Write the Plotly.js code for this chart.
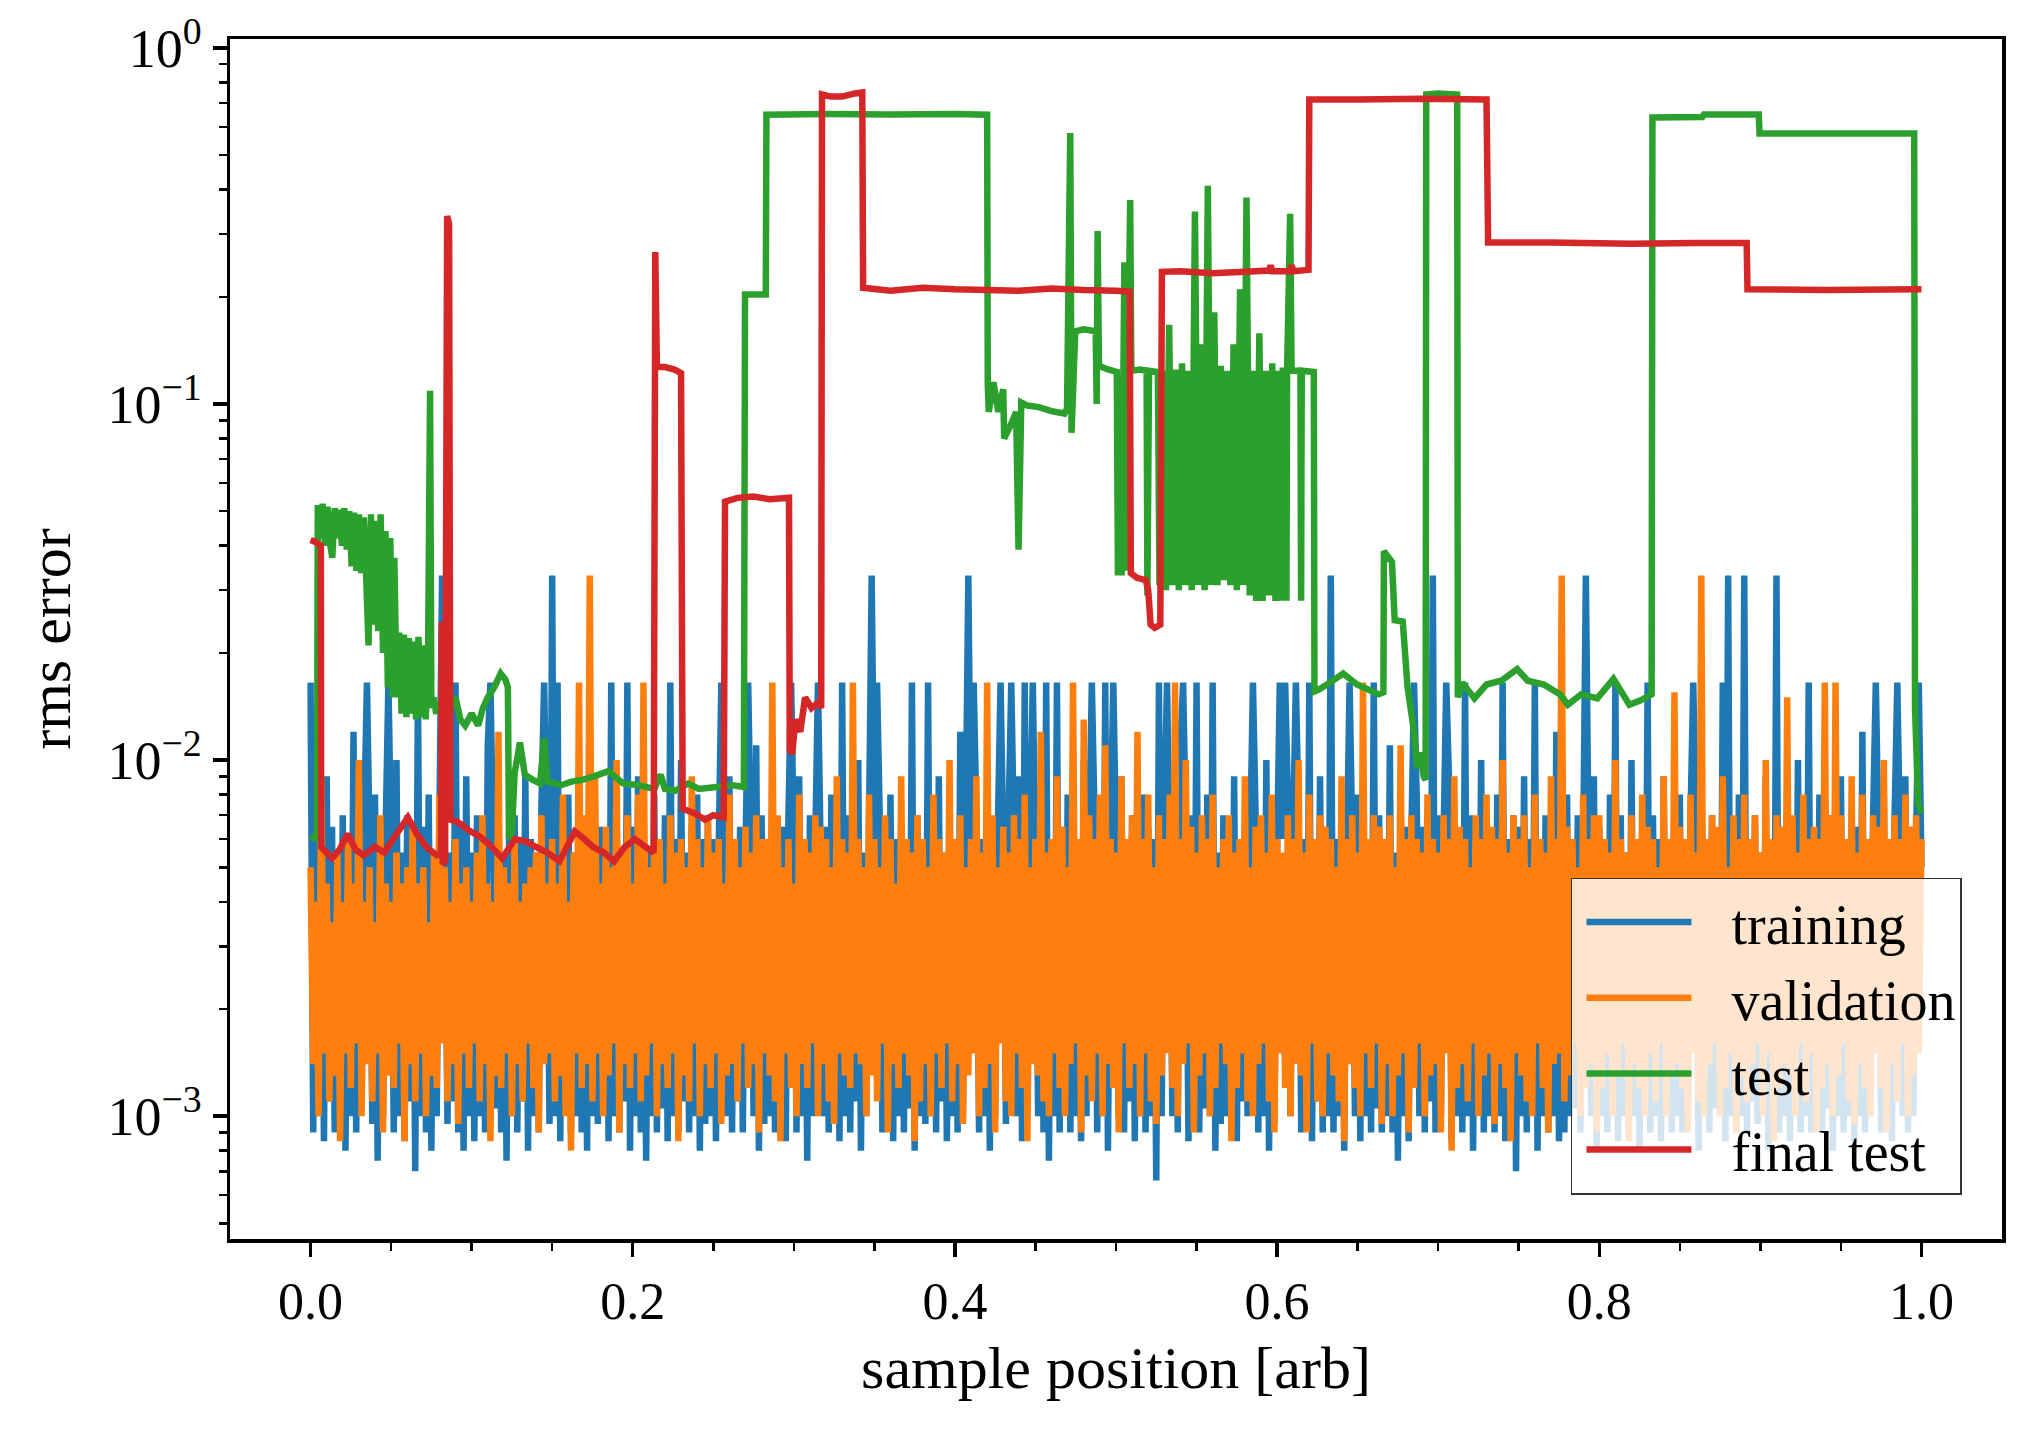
<!DOCTYPE html>
<html>
<head>
<meta charset="utf-8">
<script src="https://cdn.plot.ly/plotly-3.0.1.min.js"></script>
<style>html,body{margin:0;padding:0;background:#fff;}</style>
</head>
<body>
<div id="chart" style="width:2031px;height:1431px;"></div>
<script>
// ---------------- data ----------------
const seriesNames = ['training', 'validation', 'test', 'final test'];
const seriesColors = ['#1f77b4', '#ff7f0e', '#2ca02c', '#d62728'];

const xTickVals = [0, 0.2, 0.4, 0.6, 0.8, 1.0];
const xTickText = ['0.0', '0.2', '0.4', '0.6', '0.8', '1.0'];
const xMinorVals = [0.05,0.1,0.15,0.25,0.3,0.35,0.45,0.5,0.55,0.65,0.7,0.75,0.85,0.9,0.95];
const yTickVals = [0.001, 0.01, 0.1, 1];
const yTickText = ['10<sup>\u22123</sup>', '10<sup>\u22122</sup>', '10<sup>\u22121</sup>', '10<sup>0</sup>'];
const yMinorVals = [5e-4,6e-4,7e-4,8e-4,9e-4,2e-3,3e-3,4e-3,5e-3,6e-3,7e-3,8e-3,9e-3,
                    2e-2,3e-2,4e-2,5e-2,6e-2,7e-2,8e-2,9e-2,0.2,0.3,0.4,0.5,0.6,0.7,0.8,0.9];

// training rms error in units of 1e-3, samples evenly spread over [0, 1]
const trainingMilli = [
 16.5,0.9,6,1.0,5.5,0.85,9,1.1,6.5,0.9,
 5.5,1.0,7,0.8,6,1.0,12,0.9,5.5,1.05,
 7,16.5,6,0.95,8,0.75,5.5,1.0,6.5,16.5,
 6,0.9,10,1.0,5.5,0.85,7,1.1,6,0.7,
 16.5,1.0,6.5,0.9,8,0.8,5.5,1.0,7,33,
 6,0.95,5.5,1.1,16.5,0.9,6.5,0.8,9,1.0,
 5.5,0.85,7,1.0,6,0.9,11,16.5,6,1.05,
 8,0.9,5.5,0.75,6.5,1.0,7,0.9,6,1.1,
 9,0.8,6,1.0,5.5,0.9,7.5,16.5,6,0.95,
 33,1.0,16.5,0.85,6,1.1,8,0.9,5.5,1.0,
 7,0.9,6,0.8,12,1.0,5.5,0.95,6.5,1.05,
 6,0.85,16.5,1.0,7,0.9,5.5,1.1,16.5,0.8,
 6.5,1.0,9,0.9,6,0.75,5.5,1.0,8,0.9,
 6,1.05,7,0.85,16.5,1.0,6,0.9,10,1.1,
 5.5,0.9,6.5,1.0,8,0.8,6,0.95,7,1.0,
 6,0.85,5.5,16.5,7,1.0,9,0.9,6,1.1,
 6.5,0.9,5.5,16.5,6,1.0,11,0.8,7,0.95,
 6,1.0,8,0.9,5.5,1.1,6.5,0.85,7,16.5,
 6,0.9,9,1.0,5.5,0.75,7,1.0,6,16.5,
 5.5,1.0,6.5,0.9,8,1.05,6,0.85,16.5,1.0,
 7,0.9,6,1.1,10,0.8,5.5,1.0,6.5,33,
 6,16.5,7,0.9,5.5,1.0,8,0.85,6,1.0,
 6.5,0.9,5.5,1.05,16.5,0.8,7,1.0,6,0.95,
 16.5,1.0,6,0.9,9,1.1,5.5,0.85,7,1.0,
 6,0.9,12,1.0,6.5,33,5.5,16.5,7,0.9,
 6,1.0,8,0.8,5.5,1.0,6.5,16.5,6,0.95,
 7,16.5,6,1.0,9,0.85,16.5,1.1,6,16.5,
 5.5,1.0,7,0.9,16.5,0.75,6,1.0,16.5,0.9,
 6.5,1.05,8,0.9,6,1.0,5.5,0.85,10,1.0,
 6,16.5,7,0.9,5.5,1.0,16.5,0.8,6.5,16.5,
 6,1.0,9,0.9,5.5,1.1,7,0.85,6,1.0,
 8,0.9,6.5,1.0,6,0.66,16.5,1.0,7,16.5,
 5.5,1.0,6,0.9,11,16.5,6.5,0.85,7,1.0,
 16.5,0.9,6,1.05,8,1.0,16.5,0.8,5.5,0.95,
 7,1.0,6.5,0.9,9,0.85,6,1.1,5.5,1.0,
 6,16.5,7,0.9,6.5,1.0,10,0.8,6,0.95,
 5.5,16.5,6,16.5,8,1.0,6.5,16.5,7,0.9,
 6,1.0,16.5,0.85,5.5,1.1,9,0.9,6.5,1.0,
 33,0.9,6,1.0,7,0.8,5.5,16.5,6,1.0,
 8,0.85,6.5,1.0,6,0.9,16.5,1.05,7,0.9,
 6,1.0,11,0.9,5.5,0.75,7,1.0,6.5,0.85,
 6,16.5,8,1.0,6.5,0.9,5.5,1.1,33,0.9,
 7,1.0,6,16.5,9,0.85,6.5,1.0,5.5,0.9,
 16.5,1.0,7,0.8,6,1.05,10,0.9,6.5,1.0,
 5.5,0.9,8,1.0,16.5,0.85,6,1.0,7,0.7,
 6.5,1.0,9,0.9,6,1.1,16.5,0.8,5.5,1.0,
 7,0.9,6,1.0,12,0.85,6.5,0.9,8,1.0,
 6,1.05,7,0.9,5.5,33,6,1.0,9,0.8,
 6.5,1.0,6,0.9,8,1.0,16.5,0.85,7,1.0,
 5.5,0.9,10,1.0,6,0.8,6.5,1.1,16.5,0.9,
 7,1.0,6,0.85,9,1.0,5.5,0.9,6.5,1.0,
 8,0.9,6,1.0,7,16.5,6.5,0.8,11,1.0,
 6,0.9,7,1.05,5.5,1.0,16.5,0.85,33,1.0,
 6.5,0.9,8,1.0,33,0.9,6,1.1,7,0.95,
 5.5,1.0,9,0.8,6,1.0,33,0.9,6.5,1.0,
 7,0.85,6,1.0,10,0.9,5.5,1.0,16.5,0.9,
 6,1.0,8,0.9,6.5,1.05,7,0.8,6,1.0,
 9,0.9,5.5,1.0,7,0.85,6.5,1.0,12,0.9,
 6,1.0,7,16.5,6,0.9,8,1.0,5.5,0.85,
 7,16.5,6,1.0,9,0.9,6.5,1.0,6,16.5,
 5
];

// validation rms error in units of 1e-3, same sample grid
const validationMilli = [
 5,1.4,4,1.0,9,1.5,4.5,1.1,3.5,1.3,
 5.5,0.85,4,1.5,6,1.2,4.5,1.6,10,1.0,
 4,1.4,5,1.1,3.5,1.5,7,0.9,4.5,1.3,
 4,1.2,5.5,1.6,4.5,0.85,5,1.4,6.5,1.1,
 4.5,1.5,5,1.0,3.5,1.3,5.5,1.2,8,1.6,
 5,1.1,4,1.4,6,0.95,4.5,1.5,5,1.2,
 4,1.6,5.5,1.1,7,1.4,4.5,0.85,4,1.3,
 12,1.2,5,1.5,4.5,1.0,6,1.4,4,1.1,
 4.5,1.6,5,1.2,5.5,0.9,7,1.4,4.5,1.5,
 6,1.1,4.5,1.3,8,1.0,4,0.8,5.5,1.5,
 16.5,1.2,7,1.4,33,1.1,9,1.5,4.5,1.0,
 6.5,1.3,5,1.6,10,0.9,5.5,1.4,7,1.2,
 4.5,1.5,8,1.1,16.5,1.3,5,1.6,6,1.0,
 6,1.4,4.5,1.2,7,1.5,5.5,0.85,6,1.3,
 5,1.1,9,1.6,6,1.0,5,1.4,7,1.2,
 5.5,1.5,6,0.95,4.5,1.3,8,1.4,6,1.1,
 5,1.6,6.5,1.2,5.5,1.4,7,0.9,6,1.5,
 6,1.3,16.5,1.1,7,0.85,5,1.5,6,1.2,
 4.5,1.0,8,1.4,6,1.2,5.5,1.6,7,1.0,
 6.5,1.4,6,1.1,5,0.95,9,1.5,6,1.3,
 5.5,1.2,16.5,1.5,6,1.4,5,1.0,8,1.3,
 6,1.1,5,1.6,7,0.9,6,1.4,4.5,1.2,
 9,1.5,6,1.3,5.5,0.85,7,1.1,6,1.4,
 5,1.0,8,1.5,6,1.2,5.5,1.6,10,1.1,
 6,1.4,7,0.95,5,1.3,6,1.5,9,1.0,
 5.5,1.2,16.5,1.4,7,0.9,5,1.6,6.5,1.1,
 5.5,1.0,7,1.5,6,1.2,8,0.85,5,1.4,
 6,1.3,12,1.1,5.5,1.0,6,1.5,9,1.2,
 6.5,1.0,5,1.4,16.5,1.6,6,0.9,13,1.3,
 7,1.1,6,1.5,8,1.0,11,1.4,6,1.2,
 5.5,0.9,9,1.6,6,1.2,7,1.4,12,1.0,
 6,1.5,8,1.1,5,0.95,7,1.3,6,1.5,
 8,1.2,16.5,1.0,6,1.4,10,1.6,6.5,0.9,
 5.5,1.3,7,1.5,6,1.0,8,1.2,5,1.6,
 6,1.4,7,0.85,5.5,1.2,6,1.5,9,1.1,
 5,1.0,6.5,1.4,7,1.6,5.5,1.1,8,0.9,
 6,1.5,5.5,1.2,7,1.0,6,1.4,10,1.3,
 5.5,0.9,8,1.6,6,1.1,7,1.0,6.5,1.5,
 6,1.3,5,1.1,9,0.85,6,1.4,7,1.2,
 5.5,1.0,16.5,1.5,6,1.2,7,1.6,6.5,0.95,
 6,1.4,7,1.0,5,1.3,11,1.5,6,0.9,
 7,1.2,6,1.6,5.5,1.0,8,1.3,6,1.4,
 5.5,0.9,7,1.5,6,0.8,9,1.2,6.5,1.4,
 6,1.1,5,1.6,7,1.0,6,1.3,8,1.5,
 6.5,0.95,6,1.4,10,1.2,5.5,0.85,7,1.5,
 6,1.3,7,1.1,5,1.0,8,1.6,6,1.2,
 5.5,0.9,9,1.4,6,1.5,33,1.1,6.5,1.3,
 6,1.6,5,1.0,8,1.2,6,1.4,7,0.9,
 7,1.2,6,1.5,5.5,1.0,10,1.3,6,1.6,
 5.5,0.85,7,1.4,6,1.2,8,1.0,6.5,1.5,
 6,1.1,5,1.6,9,1.0,6,1.3,15.5,1.4,
 6.5,1.2,6,0.9,8,1.5,5.5,1.1,33,1.0,
 6,1.4,7,1.6,6.5,1.0,9,1.2,5,1.5,
 7,0.9,6,1.3,8,1.1,6,1.4,7,1.6,
 5.5,1.0,10,1.5,6,0.85,7,1.2,6.5,1.4,
 15,1.3,7,1.0,5.5,1.6,8,1.1,6,1.5,
 6.5,0.9,6,1.2,16.5,1.4,7,1.0,16.5,1.3,
 7,1.6,6,1.1,9,0.95,5.5,1.4,8,1.2,
 6,1.0,7,1.5,6.5,1.2,10,0.9,6,1.4,
 7,1.1,6,1.6,8,1.0,6.5,1.3,7,1.5,
 6
];

// test rms error (sample position, value)
const testX = [
 0.000,0.0040,0.0045,0.0060,0.0075,0.0090,0.0105,0.0120,0.0135,0.0150,
 0.0165,0.0180,0.0195,0.0210,0.0225,0.0240,0.0255,0.0270,0.0285,0.0300,
 0.0315,0.0330,0.0345,0.0360,0.0375,0.0390,0.0405,0.0420,0.0435,0.0450,
 0.0465,0.0480,0.0495,0.0510,0.0520,0.0535,0.0550,0.0565,0.0580,0.0595,
 0.0610,0.0625,0.0640,0.0655,0.0670,0.0685,0.0700,0.0715,0.0730,0.0742,
 0.0750,0.0765,0.0780,0.0800,0.0830,0.0860,0.0900,0.0930,0.0960,0.1000,
 0.1040,0.1070,0.1100,0.1140,0.1180,0.1210,0.1225,0.1232,0.1250,0.1267,
 0.1300,0.1330,0.1380,0.1425,0.1450,0.1470,0.1555,0.1620,0.1686,0.1760,
 0.1848,0.1900,0.1940,0.2036,0.2134,0.2173,0.2200,0.2263,0.2344,0.2410,
 0.2521,0.2620,0.2690,0.2697,0.2826,0.2830,0.3200,0.3600,0.4000,0.4200,
 0.4204,0.4210,0.4239,0.4270,0.4300,0.4306,0.4350,0.4380,0.4395,0.4412,
 0.4450,0.4520,0.4600,0.4680,0.4696,0.4716,0.4724,0.4747,0.4800,0.4874,
 0.4880,0.4886,0.4894,0.4950,0.5005,0.5012,0.5025,0.5035,0.5052,0.5060,
 0.5075,0.5088,0.5095,0.5150,0.5190,0.5195,0.5205,0.5260,
 0.527,0.529,0.531,0.533,0.535,0.537,0.539,0.541,0.543,0.545,
 0.547,0.549,0.551,0.553,0.555,0.557,0.559,0.561,0.563,0.565,
 0.567,0.569,0.571,0.573,0.575,0.577,0.579,0.581,0.583,0.585,
 0.587,0.589,0.591,0.593,0.595,0.597,0.599,0.601,0.603,0.6035,
 0.6055,0.6058,0.6062,0.6081,0.6090,0.6145,0.6149,0.6153,0.6228,0.6232,
 0.6262,0.6328,0.6410,0.6496,0.6630,0.6660,0.6663,0.6713,0.6730,0.6780,
 0.6810,0.6847,0.6870,0.6890,0.6910,0.6922,0.6926,0.7000,0.7118,0.7122,
 0.7150,0.7225,0.7300,0.7391,0.7490,0.7556,0.7656,0.7755,0.7805,0.7888,
 0.7988,0.8088,0.8187,0.8254,0.8325,0.8330,0.8640,0.8650,0.8990,0.8995,
 0.9500,0.9955,0.9960,0.9980,1.0000
];
const testY = [
 0.0061,0.0060,0.0520,0.0420,0.0525,0.0400,0.0515,0.0410,0.0370,0.0510,
 0.0420,0.0505,0.0400,0.0510,0.0390,0.0500,0.0350,0.0495,0.0340,0.0490,
 0.0335,0.0480,0.0330,0.0210,0.0490,0.0240,0.0470,0.0230,0.0490,0.0200,
 0.0440,0.0160,0.0420,0.0150,0.0370,0.0150,0.0228,0.0135,0.0225,0.0132,
 0.0220,0.0135,0.0215,0.0130,0.0222,0.0132,0.0210,0.0130,0.0205,0.1090,
 0.0140,0.0150,0.0135,0.0145,0.0125,0.0140,0.0150,0.0130,0.0125,0.0135,
 0.0125,0.0140,0.0150,0.0160,0.0175,0.0168,0.0160,0.0060,0.0063,0.0092,
 0.0112,0.0091,0.0088,0.0086,0.0115,0.0087,0.0085,0.0087,0.0088,0.0090,
 0.0093,0.0089,0.0086,0.0085,0.0083,0.0091,0.0083,0.0082,0.0086,0.0083,
 0.0084,0.0085,0.0084,0.203,0.203,0.649,0.652,0.650,0.652,0.649,
 0.114,0.095,0.115,0.095,0.110,0.080,0.088,0.095,0.039,0.101,
 0.099,0.098,0.0955,0.094,0.097,0.577,0.083,0.160,0.162,0.160,
 0.100,0.306,0.128,0.125,0.123,0.033,0.120,0.033,0.250,0.034,
 0.124,0.374,0.124,0.125,0.124,0.029,0.124,0.123,
 0.031,0.124,0.030,0.167,0.031,0.125,0.030,0.130,0.031,0.124,
 0.030,0.347,0.031,0.147,0.030,0.410,0.031,0.181,0.031,0.128,
 0.032,0.124,0.031,0.147,0.030,0.210,0.031,0.380,0.029,0.124,
 0.028,0.158,0.028,0.124,0.029,0.130,0.028,0.124,0.028,0.124,
 0.124,0.028,0.124,0.342,0.124,0.124,0.028,0.124,0.123,0.0156,
 0.0158,0.0165,0.0175,0.0163,0.0153,0.0155,0.0386,0.0360,0.0247,0.0245,
 0.0160,0.0123,0.0095,0.0105,0.0090,0.0088,0.740,0.745,0.740,0.0150,
 0.0165,0.0149,0.0163,0.0167,0.0180,0.0167,0.0163,0.0153,0.0143,0.0153,
 0.0149,0.0169,0.0143,0.0147,0.0153,0.638,0.640,0.650,0.650,0.575,
 0.575,0.575,0.0140,0.0075,0.0071
];

// final test rms error (sample position, value)
const finalTestX = [
 0.000,0.003,0.0064,0.0066,0.0133,0.0180,0.0230,0.0280,0.0328,0.0400,
 0.0458,0.0523,0.0604,0.0660,0.0718,0.0783,0.0810,0.0815,0.0820,0.0835,
 0.0848,0.0860,0.0868,0.0913,0.0994,0.1050,0.1108,0.1190,0.1270,0.1340,
 0.1400,0.1470,0.1545,0.1600,0.1640,0.1700,0.1754,0.1820,0.1884,0.1950,
 0.2014,0.2080,0.2130,0.2140,0.2150,0.2200,0.2260,0.2300,0.2310,0.2380,
 0.2450,0.2500,0.2565,0.2573,0.2650,0.2750,0.2850,0.2970,0.2975,0.2990,
 0.3010,0.3040,0.3070,0.3110,0.3150,0.3170,0.3175,0.3230,0.3300,0.3380,
 0.3425,0.3430,0.3600,0.3800,0.4000,0.4200,0.4400,0.4600,0.4800,0.5000,
 0.5085,0.5092,0.5130,0.5185,0.5200,0.5215,0.5240,0.5275,0.5285,0.5400,
 0.5600,0.5800,0.5950,0.5960,0.5970,0.6080,0.6090,0.6100,0.6195,0.6200,
 0.6500,0.6900,0.7300,0.7310,0.7700,0.8200,0.8600,0.8915,0.8920,0.9400,
 1.0000
];
const finalTestY = [
 0.0415,0.0410,0.0400,0.0057,0.0053,0.0056,0.0062,0.0056,0.0054,0.0057,
 0.0055,0.0061,0.0069,0.0062,0.0057,0.0054,0.0055,0.0244,0.0051,0.0052,
 0.337,0.320,0.0068,0.0067,0.0063,0.0061,0.0058,0.0053,0.0060,0.0059,
 0.0057,0.0055,0.0052,0.0058,0.0063,0.0060,0.0057,0.0055,0.0052,0.0057,
 0.0060,0.0057,0.0055,0.267,0.127,0.127,0.125,0.122,0.0073,0.0071,
 0.0068,0.0070,0.0069,0.0532,0.0545,0.0550,0.0540,0.0545,0.0107,0.0104,
 0.0130,0.0120,0.0150,0.0140,0.0145,0.0140,0.740,0.730,0.730,0.745,
 0.750,0.212,0.208,0.212,0.210,0.209,0.208,0.211,0.209,0.208,
 0.207,0.0335,0.0325,0.0320,0.0300,0.0240,0.0235,0.0240,0.235,0.236,
 0.233,0.235,0.237,0.245,0.236,0.236,0.245,0.236,0.238,0.716,
 0.716,0.720,0.716,0.284,0.284,0.282,0.283,0.283,0.210,0.209,
 0.210
];

// ---------------- build traces ----------------
const samplePos = trainingMilli.map((_, i) => i / (trainingMilli.length - 1));
const valPos = validationMilli.map((_, i) => i / (validationMilli.length - 1));
const LW = 6.5;

const traces = [
  {x: samplePos, y: trainingMilli.map(v => v * 1e-3), name: seriesNames[0], legendgroup: 'a'},
  {x: valPos, y: validationMilli.map(v => v * 1e-3), name: seriesNames[1], legendgroup: 'b'},
  {x: testX, y: testY, name: seriesNames[2], legendgroup: 'c'},
  {x: finalTestX, y: finalTestY, name: seriesNames[3], legendgroup: 'd'}
].map((t, k) => Object.assign(t, {
  type: 'scatter', mode: 'lines', hoverinfo: 'skip',
  line: {color: seriesColors[k], width: LW, shape: 'linear', simplify: false}
}));

const FONT = 'Liberation Serif, Times New Roman, serif';

const layout = {
  width: 2031, height: 1431,
  margin: {l: 230, r: 29, t: 39, b: 192, pad: 0},
  paper_bgcolor: '#ffffff', plot_bgcolor: '#ffffff',
  font: {family: FONT, color: '#000000', size: 52},
  showlegend: true,
  legend: {
    x: 0.9774, xanchor: 'right', y: 0.037, yanchor: 'bottom',
    bgcolor: 'rgba(255,255,255,0.8)', bordercolor: '#333333', borderwidth: 1.5,
    font: {family: FONT, size: 56, color: '#000'},
    tracegroupgap: 4, itemwidth: 149, traceorder: 'normal'
  },
  xaxis: {
    range: [-0.05, 1.05], autorange: false,
    tickmode: 'array', tickvals: xTickVals, ticktext: xTickText,
    ticks: 'outside', ticklen: 14, tickwidth: 3.5, tickcolor: '#000',
    tickfont: {family: FONT, size: 52, color: '#000'},
    showline: true, linecolor: '#000', linewidth: 3.5, mirror: true,
    showgrid: false, zeroline: false,
    minor: {tickmode: 'array', tickvals: xMinorVals, ticks: 'outside', ticklen: 8, tickwidth: 2.5, tickcolor: '#000', showgrid: false},
    title: {text: 'sample position [arb]', font: {family: FONT, size: 60, color: '#000'}, standoff: 18},
    automargin: false
  },
  yaxis: {
    type: 'log', range: [-3.345, 0.025], autorange: false,
    tickmode: 'array', tickvals: yTickVals, ticktext: yTickText,
    ticks: 'outside', ticklen: 14, tickwidth: 3.5, tickcolor: '#000',
    tickfont: {family: FONT, size: 54, color: '#000'},
    showline: true, linecolor: '#000', linewidth: 3.5, mirror: true,
    showgrid: false, zeroline: false,
    minor: {tickmode: 'array', tickvals: yMinorVals, ticks: 'outside', ticklen: 8, tickwidth: 2.5, tickcolor: '#000', showgrid: false},
    title: {text: 'rms error', font: {family: FONT, size: 60, color: '#000'}, standoff: 18},
    automargin: false
  }
};

Plotly.newPlot('chart', traces, layout, {displayModeBar: false, staticPlot: true}).then(gd => {
  // legend sample lines as long as the reference's (about 105 px)
  gd.querySelectorAll('.legend .legendlines path').forEach(p => p.setAttribute('d', 'M14,0h105'));
});
</script>
</body>
</html>
